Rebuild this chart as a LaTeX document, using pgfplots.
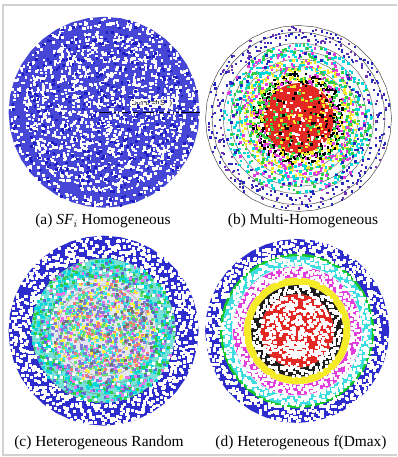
\documentclass[border=0pt]{standalone}
\usepackage{fontspec}
\setmainfont{Liberation Serif}
\newfontfamily\labfont{Liberation Sans}
\usepackage{pgfplots}
\usepackage{pgfplotstable}
\pgfplotsset{compat=1.18}
\definecolor{ablue}{RGB}{70,70,215}
\definecolor{adark}{RGB}{30,30,195}
\definecolor{bblue}{RGB}{45,45,205}
\definecolor{bdot}{RGB}{40,40,190}
\definecolor{vdot}{RGB}{110,50,180}
\definecolor{ccyan}{RGB}{0,215,220}
\definecolor{cgreen}{RGB}{50,205,70}
\definecolor{cmag}{RGB}{225,60,220}
\definecolor{cyel}{RGB}{245,235,40}
\definecolor{cred}{RGB}{228,40,35}
\definecolor{lcyan}{RGB}{120,225,215}
\definecolor{lmix}{RGB}{228,230,240}
\definecolor{dcyan}{RGB}{60,220,225}
\definecolor{dgreen}{RGB}{20,200,40}
\definecolor{dblack}{RGB}{30,30,30}
% scattered points: angle (deg), u (uniform radial fraction, %), r (areal radial fraction, %)
\pgfplotstableread{
a u r
17 43 82
254 91 57
133 8 12
302 66 71
78 29 38
199 77 97
345 52 63
46 14 27
221 85 45
112 37 79
281 3 94
164 61 52
9 95 74
238 22 91
97 48 29
326 70 83
57 19 67
183 88 35
268 33 58
142 56 76
35 81 41
313 11 98
206 64 69
88 27 18
355 90 55
121 46 81
249 6 34
172 73 95
63 39 62
291 98 44
3 24 9
227 59 48
150 84 72
334 16 84
71 53 22
195 31 66
276 79 31
104 2 77
24 68 53
317 44 90
158 93 60
243 12 80
82 57 23
341 35 43
189 75 73
51 21 96
262 87 64
127 50 40
299 9 56
14 62 75
213 41 33
137 96 15
330 26 70
67 72 59
257 5 91
176 49 80
39 83 47
308 18 93
116 60 68
233 94 36
92 32 74
350 67 51
167 13 83
286 80 21
28 45 61
201 99 79
145 23 39
321 58 99
75 89 72
247 36 47
6 71 57
130 10 82
272 54 66
187 92 7
60 28 76
339 63 44
216 7 96
101 82 69
295 40 33
155 17 62
42 76 81
264 25 54
179 69 26
312 97 73
86 34 94
229 51 36
11 15 78
141 86 42
347 42 65
109 65 95
252 1 71
193 55 19
69 90 50
318 30 80
124 74 97
279 20 63
32 47 92
160 78 74
236 38 58
93 94 30
304 12 77
19 58 42
171 33 49
259 85 68
54 4 98
336 70 14
118 27 60
209 89 82
287 46 75
147 63 31
1 19 95
224 80 64
79 53 38
352 8 72
163 96 83
240 41 55
99 22 90
315 75 79
44 60 67
197 11 24
270 88 46
135 37 93
26 67 73
327 3 91
185 52 62
64 84 81
250 29 45
113 72 70
296 16 99
8 92 56
219 44 84
152 7 77
343 81 11
85 35 40
266 59 96
169 24 65
37 98 80
310 49 34
128 14 59
231 77 74
58 31 90
333 66 48
178 2 83
283 90 69
106 50 28
21 26 76
245 73 94
139 43 53
358 10 46
72 86 71
205 39 97
292 64 61
48 17 79
157 95 17
320 32 68
95 56 84
261 9 45
12 83 91
190 45 75
122 21 93
275 68 41
31 93 63
214 28 82
148 61 72
338 6 98
81 79 57
255 48 32
174 13 78
306 87 66
40 40 95
228 71 20
115 18 50
349 54 81
66 97 73
200 23 90
285 62 60
4 36 96
144 82 76
242 5 39
103 70 67
324 42 83
181 15 37
52 91 94
265 33 72
131 57 95
16 76 64
220 20 80
298 99 13
90 47 55
166 12 99
344 85 74
235 30 43
62 65 69
153 1 84
278 74 58
27 38 92
192 89 78
110 25 65
314 60 97
76 16 81
}\T
% annulus outline: k=1 outer edge, k=0 inner edge (reversed)
\pgfplotstableread{
a k
0 1
10 1
20 1
30 1
40 1
50 1
60 1
70 1
80 1
90 1
100 1
110 1
120 1
130 1
140 1
150 1
160 1
170 1
180 1
190 1
200 1
210 1
220 1
230 1
240 1
250 1
260 1
270 1
280 1
290 1
300 1
310 1
320 1
330 1
340 1
350 1
360 1
360 0
350 0
340 0
330 0
320 0
310 0
300 0
290 0
280 0
270 0
260 0
250 0
240 0
230 0
220 0
210 0
200 0
190 0
180 0
170 0
160 0
150 0
140 0
130 0
120 0
110 0
100 0
90 0
80 0
70 0
60 0
50 0
40 0
30 0
20 0
10 0
0 0
}\Rg
\pgfplotstableread{
a k
0 1
10 1
20 1
30 1
40 1
50 1
60 1
70 1
80 1
90 1
100 1
110 1
120 1
130 1
140 1
150 1
160 1
170 1
180 1
190 1
200 1
210 1
220 1
230 1
240 1
250 1
260 1
270 1
280 1
290 1
300 1
310 1
320 1
330 1
340 1
350 1
360 1
}\Cc
\pgfplotsset{pan/.style={anchor=south west, scale only axis, hide axis, clip=false,
  xmin=-1, xmax=1, ymin=-1, ymax=1}}
% #1 options, #2 mark size, #3 rotation, #4 sign, #5 r1, #6 r2
\newcommand{\ringpts}[6]{\addplot[only marks, mark=square*, mark size=#2, mark options={draw=none}, data cs=polar, #1]
  table[x expr={#3+#4*\thisrow{a}}, y expr={#5+(#6-#5)*\thisrow{u}/100}] {\T};}
% #1 options, #2 mark size, #3 rotation, #4 sign, #5 radius
\newcommand{\diskpts}[5]{\addplot[only marks, mark=square*, mark size=#2, mark options={draw=none}, data cs=polar, #1]
  table[x expr={#3+#4*\thisrow{a}}, y expr={#5*\thisrow{r}/100}] {\T};}
\newcommand{\annfill}[3]{\addplot[fill=#1, draw=none, data cs=polar] table[x=a, y expr={#2+(#3-#2)*\thisrow{k}}] {\Rg};}
\newcommand{\ringline}[2]{\addplot[#1, data cs=polar] table[x=a, y expr={#2*\thisrow{k}}] {\Cc};}
\newcommand{\capfont}{\fontsize{15.4}{18}\selectfont}
\begin{document}
\begin{tikzpicture}[x=1pt,y=1pt]
\fill[white] (0,0) rectangle (397,457);
\draw[gray!35, line width=1.5pt] (396.5,452) -- (3,452) -- (3,2) -- (396.5,2);

% (a)
\begin{axis}[pan, at={(9,261)}, width=191pt, height=191pt]
\annfill{ablue}{0}{1}
\diskpts{white}{0.8}{0}{1}{1}
\diskpts{white}{0.8}{61}{1}{1}
\diskpts{white}{0.8}{137}{1}{1}
\diskpts{white}{0.8}{199}{1}{1}
\diskpts{white}{0.8}{263}{1}{1}
\diskpts{white}{0.8}{311}{1}{1}
\diskpts{white}{0.8}{23}{-1}{1}
\diskpts{white}{0.8}{113}{-1}{1}
\diskpts{color=adark}{0.8}{179}{-1}{1}
\diskpts{color=adark}{0.8}{241}{-1}{1}
\addplot[black, line width=1.2pt] coordinates {(-0.07,0) (1,0)};
\node[fill=white, inner sep=1pt, font=\labfont\fontsize{7.5}{8}\selectfont] at (axis cs:0.5,0.095) {Dmax=f(SF)};
\end{axis}

% (b)
\begin{axis}[pan, at={(221,264)}, width=186pt, height=186pt]
\ringpts{color=bdot}{0.6}{0}{1}{0.82}{0.99}
\ringpts{color=vdot, each nth point=2}{0.6}{131}{-1}{0.82}{0.99}
\ringpts{color=ccyan}{0.8}{17}{1}{0.64}{0.81}
\ringpts{color=cgreen, each nth point=2}{0.8}{77}{1}{0.64}{0.81}
\ringpts{color=cmag, each nth point=3}{0.8}{151}{1}{0.64}{0.81}
\ringpts{color=bdot, each nth point=3}{0.8}{289}{-1}{0.64}{0.81}
\ringpts{color=cyel}{0.8}{43}{1}{0.50}{0.64}
\ringpts{color=ccyan, each nth point=2}{0.8}{167}{-1}{0.50}{0.64}
\ringpts{color=cmag, each nth point=2}{0.8}{251}{1}{0.50}{0.64}
\ringpts{color=cgreen, each nth point=3}{0.8}{311}{-1}{0.50}{0.64}
\ringpts{black}{0.8}{29}{1}{0.38}{0.50}
\ringpts{color=cyel, each nth point=2}{0.8}{181}{-1}{0.38}{0.50}
\ringpts{color=cmag, each nth point=3}{0.8}{263}{1}{0.38}{0.50}
\ringpts{color=cgreen, each nth point=3}{0.8}{113}{-1}{0.38}{0.50}
\annfill{cred}{0}{0.38}
\diskpts{white, each nth point=3}{0.75}{0}{1}{0.38}
\diskpts{color=cyel, each nth point=3}{0.75}{71}{1}{0.38}
\diskpts{color=cgreen, each nth point=4}{0.75}{239}{-1}{0.38}
\diskpts{black, each nth point=4}{0.75}{307}{1}{0.38}
\ringline{gray!60!black, line width=0.5pt}{1}
\ringline{gray!60!black, line width=0.5pt}{0.93}
\ringline{gray!60!black, line width=0.4pt}{0.81}
\ringline{gray!60!black, line width=0.4pt}{0.73}
\ringline{gray!60!black, line width=0.4pt}{0.64}
\ringline{gray!60!black, line width=0.4pt}{0.56}
\end{axis}

% (c)
\begin{axis}[pan, at={(9,33)}, width=190pt, height=190pt]
\annfill{bblue}{0.76}{1}
\ringpts{white}{1.05}{0}{1}{0.76}{1}
\ringpts{white}{1.05}{97}{1}{0.76}{1}
\ringpts{white}{1.05}{211}{-1}{0.76}{1}
\ringpts{white}{1.05}{287}{-1}{0.76}{1}
\annfill{lcyan}{0.55}{0.76}
\ringpts{color=ccyan}{1.0}{19}{1}{0.55}{0.76}
\ringpts{color=ccyan, each nth point=2}{1.0}{199}{-1}{0.55}{0.76}
\ringpts{color=cgreen}{0.95}{101}{1}{0.55}{0.76}
\ringpts{color=bdot!70, each nth point=2}{0.95}{277}{-1}{0.55}{0.76}
\ringpts{color=cmag!70, each nth point=3}{0.95}{331}{1}{0.55}{0.76}
\ringpts{white, each nth point=2}{0.95}{53}{-1}{0.55}{0.76}
\annfill{lmix}{0}{0.55}
\diskpts{color=cmag!75}{0.9}{0}{1}{0.55}
\diskpts{color=cyel!90}{0.9}{53}{-1}{0.55}
\diskpts{color=cgreen!75}{0.9}{107}{1}{0.55}
\diskpts{color=ccyan!75}{0.9}{163}{-1}{0.55}
\diskpts{color=bdot!60}{0.9}{223}{1}{0.55}
\diskpts{color=cred!60, each nth point=3}{0.9}{281}{-1}{0.55}
\diskpts{black!55, each nth point=4}{0.9}{337}{1}{0.55}
\ringline{gray!50!black, line width=0.4pt, opacity=0.5}{0.76}
\ringline{gray!50!black, line width=0.4pt, opacity=0.5}{0.67}
\ringline{gray!50!black, line width=0.4pt, opacity=0.5}{0.58}
\ringline{gray!50!black, line width=0.4pt, opacity=0.5}{0.48}
\ringline{gray!50!black, line width=0.4pt, opacity=0.5}{0.38}
\ringline{gray!50!black, line width=0.4pt, opacity=0.5}{0.28}
\end{axis}

% (d)
\begin{axis}[pan, at={(223,37)}, width=184pt, height=184pt]
\annfill{bblue}{0.835}{1}
\ringpts{white}{1.05}{0}{1}{0.835}{1}
\ringpts{white}{1.05}{121}{1}{0.835}{1}
\ringpts{white}{1.05}{241}{-1}{0.835}{1}
\annfill{dcyan}{0.71}{0.815}
\ringpts{white}{1.0}{37}{1}{0.71}{0.815}
\ringpts{white}{1.0}{213}{-1}{0.71}{0.815}
\ringline{dgreen, line width=2.5pt}{0.828}
\annfill{cmag}{0.585}{0.70}
\ringpts{white}{1.0}{59}{1}{0.585}{0.70}
\ringpts{white}{1.0}{241}{-1}{0.585}{0.70}
\annfill{cyel}{0.50}{0.58}
\annfill{dblack}{0.40}{0.50}
\ringpts{white}{1.0}{11}{1}{0.40}{0.50}
\annfill{cred}{0}{0.40}
\diskpts{white}{1.0}{0}{1}{0.40}
\diskpts{white}{1.0}{167}{-1}{0.40}
\end{axis}

\node[anchor=base, font=\capfont] at (103,232) {(a) \textit{SF}$_i$ Homogeneous};
\node[anchor=base, font=\capfont] at (303,232) {(b) Multi-Homogeneous};
\node[anchor=base, font=\capfont] at (99,10) {(c) Heterogeneous Random};
\node[anchor=base, font=\capfont] at (301,10) {(d) Heterogeneous f(Dmax)};
\end{tikzpicture}
\end{document}
